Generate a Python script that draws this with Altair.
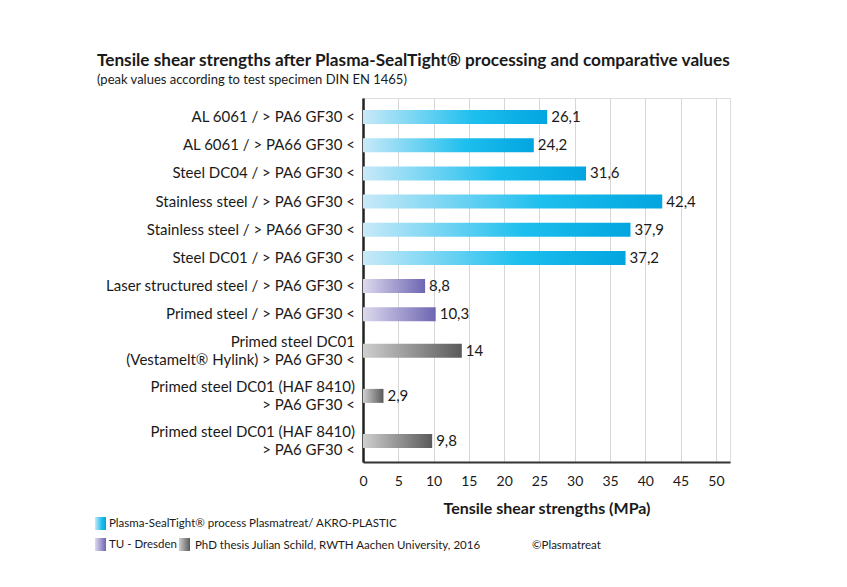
import altair as alt
import pandas as pd

labels = [
    "AL 6061 / > PA6 GF30 <",
    "AL 6061 / > PA66 GF30 <",
    "Steel DC04 / > PA6 GF30 <",
    "Stainless steel / > PA6 GF30 <",
    "Stainless steel / > PA66 GF30 <",
    "Steel DC01 / > PA6 GF30 <",
    "Laser structured steel / > PA6 GF30 <",
    "Primed steel / > PA6 GF30 <",
    "Primed steel DC01\n(Vestamelt® Hylink) > PA6 GF30 <",
    "Primed steel DC01 (HAF 8410)\n> PA6 GF30 <",
    "Primed steel DC01 (HAF 8410)\n> PA6 GF30 <",
]
values = [26.1, 24.2, 31.6, 42.4, 37.9, 37.2, 8.8, 10.3, 14, 2.9, 9.8]
groups = ["plasma"] * 6 + ["tud"] * 2 + ["phd"] * 3
x_ticks = [0, 5, 10, 15, 20, 25, 30, 35, 40, 45, 50]

FONT = "Lato"
TXT = "#1a1a1a"

# row layout derived from number of label lines (two-line labels get taller rows)
nlines = [l.count("\n") + 1 for l in labels]
heights = [1.0 if n == 1 else 1.6 for n in nlines]
centers, acc = [], 0.0
for h in heights:
    centers.append(acc + h / 2)
    acc += h
total = acc

df = pd.DataFrame({
    "label": labels,
    "value": values,
    "group": groups,
    "slot": centers,
    "nlines": nlines,
    "vlabel": [f"{v:g}".replace(".", ",") for v in values],
})

W, H = 367, 364

def grad(c0, c1, c2=None):
    stops = [alt.GradientStop(color=c0, offset=0)]
    if c2:
        stops += [alt.GradientStop(color=c1, offset=0.6), alt.GradientStop(color=c2, offset=1)]
    else:
        stops += [alt.GradientStop(color=c1, offset=1)]
    return alt.Gradient(gradient="linear", stops=stops, x1=0, x2=1, y1=0, y2=0)

G_BLUE = grad("#c8e9f8", "#1dbfee", "#02a5df")
G_PURP = grad("#dcd9ee", "#6e66b2")
G_GRAY = grad("#cfcfcf", "#5a5a5a")

xscale = alt.Scale(domain=[0, 52], nice=False, zero=True)
yscale = alt.Scale(domain=[0, total - 0.23], reverse=True, nice=False, zero=False)

base = alt.Chart(df)

xaxis = alt.Axis(
    values=x_ticks, title="Tensile shear strengths (MPa)", grid=True,
    gridColor="#d6d6d6", gridWidth=1, domainColor="#333333", domainWidth=2,
    ticks=False, labelFont=FONT, labelFontSize=14, labelColor=TXT, labelPadding=12,
    labelOverlap=False, labelFlush=False, labelBound=False,
    titleFont=FONT, titleFontSize=16, titleFontWeight="bold", titleColor=TXT, titlePadding=12,
)
yaxis = alt.Axis(labels=False, ticks=False, title=None, grid=False,
                 domainColor="#222222", domainWidth=2.5)

X = alt.X("value:Q", scale=xscale, axis=xaxis)
Y = alt.Y("slot:Q", scale=yscale, axis=yaxis)

def bars(g, fill):
    return base.transform_filter(alt.datum.group == g).mark_bar(
        orient="horizontal", size=14, color=fill, cornerRadius=0
    ).encode(x=X, x2=alt.datum(0), y=Y)

value_text = base.mark_text(align="left", baseline="middle", dx=4, font=FONT,
                            fontSize=15, color=TXT).encode(x=X, y=Y, text="vlabel:N")

def label_text(n, dy):
    return base.transform_filter(alt.datum.nlines == n).mark_text(
        align="right", baseline="middle", font=FONT, fontSize=15, dy=dy,
        color=TXT, lineBreak="\n", lineHeight=18).encode(
        x=alt.value(-8), y=Y, text="label:N")

one = alt.Data(values=[{"a": 1}])

def swatch(x, y, fill):
    return alt.Chart(one).mark_rect(color=fill).encode(
        x=alt.value(x), x2=alt.value(x + 11), y=alt.value(y), y2=alt.value(y + 13))

def note(x, y, t, size=11.5):
    return alt.Chart(one).mark_text(text=t, align="left", baseline="middle", font=FONT,
                                    fontSize=size, color=TXT).encode(
        x=alt.value(x), y=alt.value(y))

ox, oy = 363, 100  # page position of plot origin
legend = [
    swatch(95 - ox, 519 - oy, G_BLUE),
    note(109 - ox, 526 - oy, "Plasma-SealTight® process Plasmatreat/ AKRO-PLASTIC"),
    swatch(95 - ox, 540 - oy, G_PURP),
    note(109 - ox, 547 - oy, "TU - Dresden"),
    swatch(179 - ox, 540 - oy, G_GRAY),
    note(195 - ox, 548 - oy, "PhD thesis  Julian Schild, RWTH Aachen University, 2016"),
    note(532 - ox, 548 - oy, "©Plasmatreat"),
]

chart = alt.layer(
    bars("plasma", G_BLUE), bars("tud", G_PURP), bars("phd", G_GRAY),
    value_text, label_text(1, 0), label_text(2, -9), *legend,
).properties(
    width=W, height=H,
    autosize=alt.AutoSizeParams(type="none"),
    padding={"left": ox - 8, "top": oy - 10, "right": 100, "bottom": 100},
    title=alt.TitleParams(
        text="Tensile shear strengths after Plasma-SealTight® processing and comparative values",
        subtitle="(peak values according to test specimen DIN EN 1465)",
        anchor="start", frame="group", dx=97 - ox, offset=11,
        font=FONT, fontSize=17.2, fontWeight="bold", color=TXT,
        subtitleFont=FONT, subtitleFontSize=13, subtitleColor=TXT, subtitlePadding=5,
    ),
).configure_view(stroke=None).configure_axisX(labelOverlap=False).configure(background="white")

chart.save("out.html", embed_options={"renderer": "svg", "actions": False})
